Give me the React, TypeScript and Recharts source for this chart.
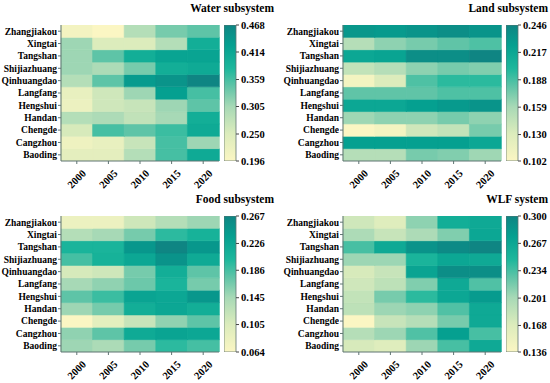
import React from 'react';
import { BarChart, Bar, XAxis, YAxis, Cell } from 'recharts';

const YEARS = ['2000', '2005', '2010', '2015', '2020'];
const CITIES = ['Zhangjiakou', 'Xingtai', 'Tangshan', 'Shijiazhuang', 'Qinhuangdao', 'Langfang', 'Hengshui', 'Handan', 'Chengde', 'Cangzhou', 'Baoding'];

// rows follow CITIES, columns follow YEARS
const WATER = [
  [0.210, 0.196, 0.291, 0.332, 0.346],
  [0.310, 0.250, 0.250, 0.291, 0.400],
  [0.310, 0.346, 0.400, 0.419, 0.419],
  [0.310, 0.299, 0.332, 0.400, 0.408],
  [0.291, 0.346, 0.435, 0.446, 0.468],
  [0.229, 0.264, 0.310, 0.427, 0.359],
  [0.223, 0.264, 0.272, 0.310, 0.346],
  [0.291, 0.299, 0.278, 0.305, 0.400],
  [0.256, 0.359, 0.346, 0.365, 0.408],
  [0.218, 0.229, 0.272, 0.359, 0.310],
  [0.237, 0.237, 0.291, 0.359, 0.408],
];
const LAND = [
  [0.232, 0.229, 0.234, 0.239, 0.234],
  [0.152, 0.167, 0.174, 0.181, 0.186],
  [0.217, 0.220, 0.239, 0.239, 0.246],
  [0.145, 0.152, 0.167, 0.174, 0.171],
  [0.109, 0.131, 0.186, 0.196, 0.196],
  [0.181, 0.181, 0.181, 0.186, 0.186],
  [0.217, 0.217, 0.224, 0.229, 0.234],
  [0.162, 0.167, 0.167, 0.174, 0.167],
  [0.102, 0.109, 0.138, 0.145, 0.174],
  [0.224, 0.224, 0.224, 0.224, 0.217],
  [0.152, 0.152, 0.174, 0.171, 0.162],
];
const FOOD = [
  [0.084, 0.084, 0.115, 0.135, 0.149],
  [0.135, 0.145, 0.166, 0.196, 0.210],
  [0.206, 0.206, 0.247, 0.267, 0.247],
  [0.186, 0.210, 0.226, 0.251, 0.222],
  [0.109, 0.115, 0.166, 0.216, 0.176],
  [0.145, 0.155, 0.170, 0.206, 0.166],
  [0.176, 0.190, 0.230, 0.226, 0.247],
  [0.149, 0.166, 0.216, 0.226, 0.216],
  [0.064, 0.094, 0.121, 0.155, 0.176],
  [0.155, 0.176, 0.222, 0.230, 0.226],
  [0.149, 0.141, 0.166, 0.196, 0.186],
];
const WLF = [
  [0.177, 0.166, 0.210, 0.259, 0.264],
  [0.198, 0.182, 0.198, 0.215, 0.267],
  [0.234, 0.264, 0.287, 0.295, 0.300],
  [0.205, 0.205, 0.251, 0.267, 0.264],
  [0.172, 0.182, 0.270, 0.292, 0.292],
  [0.177, 0.188, 0.215, 0.264, 0.231],
  [0.185, 0.218, 0.243, 0.267, 0.280],
  [0.188, 0.205, 0.210, 0.231, 0.264],
  [0.136, 0.182, 0.193, 0.218, 0.264],
  [0.193, 0.205, 0.231, 0.275, 0.234],
  [0.172, 0.166, 0.205, 0.234, 0.264],
];

const WATER_TICKS = [0.196, 0.250, 0.305, 0.359, 0.414, 0.468];
const LAND_TICKS = [0.102, 0.130, 0.159, 0.188, 0.217, 0.246];
const FOOD_TICKS = [0.064, 0.105, 0.145, 0.186, 0.226, 0.267];
const WLF_TICKS = [0.136, 0.168, 0.201, 0.234, 0.267, 0.300];

const STOPS: [number, string][] = [
  [0.0, '#fbf6c3'],
  [0.2, '#dcecbc'],
  [0.4, '#a7d9b6'],
  [0.55, '#5fc4a7'],
  [0.68, '#1db79c'],
  [0.85, '#05a090'],
  [1.0, '#0f8583'],
];

function hex(c: string) {
  return [1, 3, 5].map((i) => parseInt(c.slice(i, i + 2), 16));
}
function cmap(t: number) {
  const v = Math.max(0, Math.min(1, t));
  for (let i = 1; i < STOPS.length; i++) {
    if (v <= STOPS[i][0]) {
      const [t0, c0] = STOPS[i - 1];
      const [t1, c1] = STOPS[i];
      const f = (v - t0) / (t1 - t0);
      const a = hex(c0), b = hex(c1);
      const r = a.map((x, k) => Math.round(x + (b[k] - x) * f));
      return `rgb(${r[0]},${r[1]},${r[2]})`;
    }
  }
  return STOPS[STOPS.length - 1][1];
}

const FONT = '"Liberation Serif", "Times New Roman", serif';
const BOTTOM_UP = [...CITIES].reverse();
const Y_TICKS = BOTTOM_UP.map((_, i) => i + 0.5);
const BORDER = '#5f7472';

const YearTick = (props: any) => {
  const { x, y, payload } = props;
  const cy = y + 13;
  return (
    <text x={x} y={cy} transform={`rotate(-45 ${x} ${cy})`} textAnchor="middle" dominantBaseline="central"
      fontFamily={FONT} fontWeight="bold" fontSize={10.5} fill="#000">
      {payload.value}
    </text>
  );
};

function Heatmap({ values, ticks, left, top, title, titleRight }: any) {
  const min = ticks[0];
  const max = ticks[ticks.length - 1];
  const data = YEARS.map((year, j) => {
    const row: any = { year };
    CITIES.forEach((c, i) => { row[c] = values[i][j]; });
    return row;
  });
  const gradId = 'grad';
  return (
    <>
      <div style={{ position: 'absolute', left, top }}>
        <BarChart width={225} height={190} data={data} margin={{ top: 25, right: 6, bottom: 0, left: 0 }}
          barCategoryGap={0} barGap={0}>
          <XAxis dataKey="year" type="category" height={29} tick={<YearTick />} tickSize={3}
            stroke={BORDER} interval={0} />
          <XAxis xAxisId="top" orientation="top" height={0} tick={false} tickLine={false} stroke={BORDER} />
          <YAxis type="number" domain={[0, 11]} ticks={Y_TICKS} width={61} tickSize={3} tickMargin={1}
            interval={0} stroke={BORDER} allowDataOverflow
            tickFormatter={(v: number) => BOTTOM_UP[Math.floor(v)]}
            tick={{ fontFamily: FONT, fontWeight: 'bold', fontSize: 9.5, fill: '#000' }} />
          <YAxis yAxisId="right" orientation="right" width={0} tick={false} tickLine={false} stroke={BORDER} />
          {BOTTOM_UP.map((city) => (
            <Bar key={city} dataKey={(row: any) => (row[city] != null ? 1 : 0)} stackId="s" isAnimationActive={false}>
              {data.map((row, j) => {
                const col = cmap((row[city] - min) / (max - min));
                return <Cell key={j} fill={col} stroke={col} strokeWidth={0.6} />;
              })}
            </Bar>
          ))}
        </BarChart>
      </div>
      <div style={{ position: 'absolute', left: left + 224, top }}>
        <BarChart width={51} height={190} data={[{ v: max }]} margin={{ top: 25, right: 0, bottom: 29, left: 0 }}
          barCategoryGap={0}>
          <XAxis dataKey={() => 'c'} hide />
          <YAxis type="number" orientation="right" domain={[min, max]} ticks={ticks} width={39}
            allowDataOverflow axisLine={false} tickSize={3} tickMargin={2} interval={0} stroke="#444"
            tickFormatter={(v: number) => v.toFixed(3)}
            tick={{ fontFamily: FONT, fontWeight: 'bold', fontSize: 10.5, fill: '#000' }} />
          <Bar dataKey="v" fill={`url(#${gradId})`} stroke={BORDER} strokeWidth={0.8} isAnimationActive={false} />
        </BarChart>
      </div>
      <div style={{ position: 'absolute', left: titleRight - 200, top: top + 1, width: 200, textAlign: 'right',
        fontFamily: FONT, fontWeight: 'bold', fontSize: 11.5, lineHeight: '14px', color: '#000' }}>
        {title}
      </div>
    </>
  );
}

export default function App() {
  return (
    <div style={{ position: 'absolute', left: 0, top: 0, width: 550, height: 383, background: '#fff', overflow: 'hidden' }}>
      <svg width={0} height={0} style={{ position: 'absolute' }}>
        <defs>
          <linearGradient id="grad" x1="0" y1="1" x2="0" y2="0">
            {STOPS.map(([t, c]) => <stop key={t} offset={t} stopColor={c} />)}
          </linearGradient>
        </defs>
      </svg>
      <Heatmap values={WATER} ticks={WATER_TICKS} left={0} top={0} title="Water subsystem" titleRight={274} />
      <Heatmap values={LAND} ticks={LAND_TICKS} left={282} top={0} title="Land subsystem" titleRight={548} />
      <Heatmap values={FOOD} ticks={FOOD_TICKS} left={0} top={191} title="Food subsystem" titleRight={274} />
      <Heatmap values={WLF} ticks={WLF_TICKS} left={282} top={191} title="WLF system" titleRight={548} />
    </div>
  );
}
